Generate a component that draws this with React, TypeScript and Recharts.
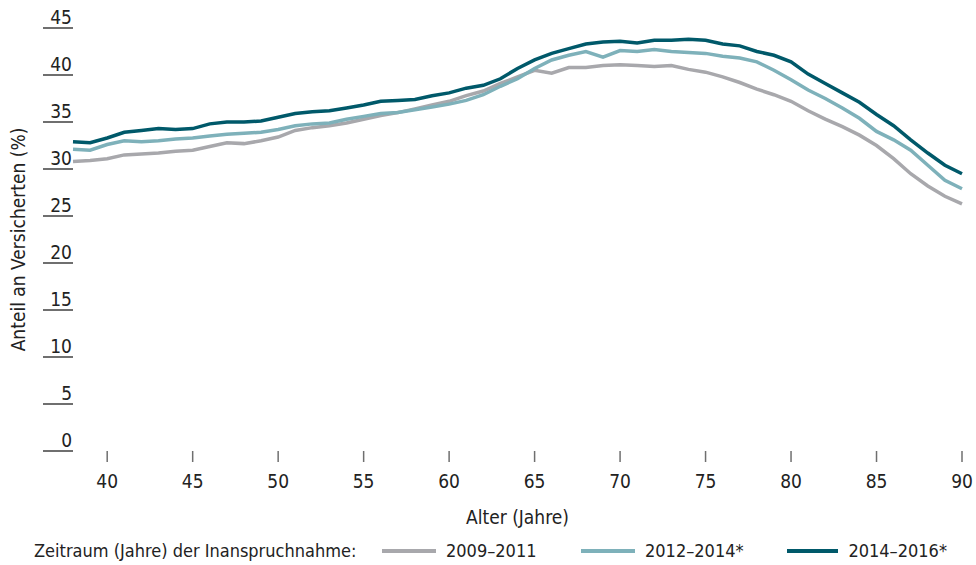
import React from 'react';
import { LineChart, Line, XAxis, YAxis, Legend } from 'recharts';

// Alter in Jahren, 38 bis 90
const ages = [
  38, 39, 40, 41, 42, 43, 44, 45, 46, 47, 48, 49, 50, 51, 52, 53, 54, 55,
  56, 57, 58, 59, 60, 61, 62, 63, 64, 65, 66, 67, 68, 69, 70, 71, 72, 73,
  74, 75, 76, 77, 78, 79, 80, 81, 82, 83, 84, 85, 86, 87, 88, 89, 90,
];

const p2009 = [
  30.8, 30.9, 31.1, 31.5, 31.6, 31.7, 31.9, 32.0, 32.4, 32.8, 32.7, 33.0, 33.4, 34.1, 34.4, 34.6, 34.9, 35.3,
  35.7, 36.0, 36.4, 36.8, 37.2, 37.8, 38.3, 39.1, 39.8, 40.5, 40.2, 40.8, 40.8, 41.0, 41.1, 41.0, 40.9, 41.0,
  40.6, 40.3, 39.8, 39.2, 38.5, 37.9, 37.2, 36.2, 35.3, 34.5, 33.6, 32.5, 31.1, 29.5, 28.2, 27.1, 26.3,
];

const p2012 = [
  32.1, 32.0, 32.6, 33.0, 32.9, 33.0, 33.2, 33.3, 33.5, 33.7, 33.8, 33.9, 34.2, 34.6, 34.8, 34.9, 35.3, 35.6,
  35.9, 36.0, 36.3, 36.6, 36.9, 37.3, 37.9, 38.8, 39.6, 40.7, 41.6, 42.1, 42.5, 41.9, 42.6, 42.5, 42.7, 42.5,
  42.4, 42.3, 42.0, 41.8, 41.4, 40.5, 39.5, 38.4, 37.5, 36.5, 35.4, 34.0, 33.1, 32.0, 30.4, 28.8, 27.9,
];

const p2014 = [
  32.9, 32.8, 33.3, 33.9, 34.1, 34.3, 34.2, 34.3, 34.8, 35.0, 35.0, 35.1, 35.5, 35.9, 36.1, 36.2, 36.5, 36.8,
  37.2, 37.3, 37.4, 37.8, 38.1, 38.6, 38.9, 39.6, 40.7, 41.6, 42.3, 42.8, 43.3, 43.5, 43.6, 43.4, 43.7, 43.7,
  43.8, 43.7, 43.3, 43.1, 42.5, 42.1, 41.4, 40.1, 39.1, 38.1, 37.1, 35.8, 34.6, 33.1, 31.7, 30.4, 29.5,
];

const xTicks = [40, 45, 50, 55, 60, 65, 70, 75, 80, 85, 90];
const yTicks = [0, 5, 10, 15, 20, 25, 30, 35, 40, 45];

const seriesNames = ['2009–2011', '2012–2014*', '2014–2016*'];
const seriesColors = ['#a8a8ac', '#7eb1ba', '#00596a'];
const legendWidths = [199, 206, 160];

const FONT = "'Liberation Sans Narrow', 'DejaVu Sans Condensed', 'Roboto Condensed', sans-serif";
const TEXT = '#222';

const data = ages.map((age, i) => ({
  age,
  s0: p2009[i],
  s1: p2012[i],
  s2: p2014[i],
}));

const YTick = (props: any) => {
  const { x, y, payload } = props;
  return (
    <g>
      <line x1={x - 30} x2={x} y1={y} y2={y} stroke="#6f6f6f" strokeWidth={2} />
      <text x={x - 1} y={y - 4} textAnchor="end" fontSize={19} fill={TEXT} fontFamily={FONT}>
        {payload.value}
      </text>
    </g>
  );
};

const YLabel = (props: any) => {
  const { viewBox } = props;
  const cx = viewBox.x - 25;
  const cy = viewBox.y + viewBox.height / 2;
  return (
    <text
      x={cx}
      y={cy}
      transform={`rotate(-90, ${cx}, ${cy})`}
      textAnchor="middle"
      dominantBaseline="central"
      fontSize={19}
      fill={TEXT}
      fontFamily={FONT}
    >
      Anteil an Versicherten (%)
    </text>
  );
};

const LegendContent = () => (
  <div
    style={{
      display: 'flex',
      alignItems: 'center',
      fontFamily: FONT,
      fontSize: 18,
      color: TEXT,
      paddingLeft: 34,
      whiteSpace: 'nowrap',
    }}
  >
    <span style={{ width: 348, display: 'inline-block' }}>Zeitraum (Jahre) der Inanspruchnahme:</span>
    {seriesNames.map((name, i) => (
      <span key={name} style={{ display: 'flex', alignItems: 'center', width: legendWidths[i] }}>
        <span style={{ display: 'inline-block', width: 54, height: 4, background: seriesColors[i], marginRight: 10 }} />
        {name}
      </span>
    ))}
  </div>
);

export default function App() {
  return (
    <div style={{ position: 'absolute', left: 0, top: 0, width: 976, height: 565, background: '#fff' }}>
      <LineChart width={976} height={565} data={data} margin={{ top: 28, right: 14, bottom: 34, left: 43 }}>
        <XAxis
          dataKey="age"
          type="number"
          domain={[38, 90]}
          ticks={xTicks}
          axisLine={false}
          tickSize={11}
          tickMargin={13}
          tickLine={{ stroke: '#6f6f6f', strokeWidth: 1.5 }}
          tick={{ fill: TEXT, fontSize: 19, fontFamily: FONT }}
          height={80}
          label={{ value: 'Alter (Jahre)', position: 'insideBottom', offset: 7, fill: TEXT, fontSize: 19, fontFamily: FONT }}
        />
        <YAxis
          type="number"
          domain={[0, 45]}
          ticks={yTicks}
          width={30}
          axisLine={false}
          tickLine={false}
          tickSize={0}
          tickMargin={0}
          tick={<YTick />}
          label={<YLabel />}
        />
        <Legend
          layout="horizontal"
          verticalAlign="middle"
          align="center"
          wrapperStyle={{ top: 540, left: 0, width: 976, height: 26 }}
          content={<LegendContent />}
        />
        <Line dataKey="s0" name={seriesNames[0]} stroke={seriesColors[0]} strokeWidth={3.5} dot={false} isAnimationActive={false} />
        <Line dataKey="s1" name={seriesNames[1]} stroke={seriesColors[1]} strokeWidth={3.5} dot={false} isAnimationActive={false} />
        <Line dataKey="s2" name={seriesNames[2]} stroke={seriesColors[2]} strokeWidth={3.5} dot={false} isAnimationActive={false} />
      </LineChart>
    </div>
  );
}
